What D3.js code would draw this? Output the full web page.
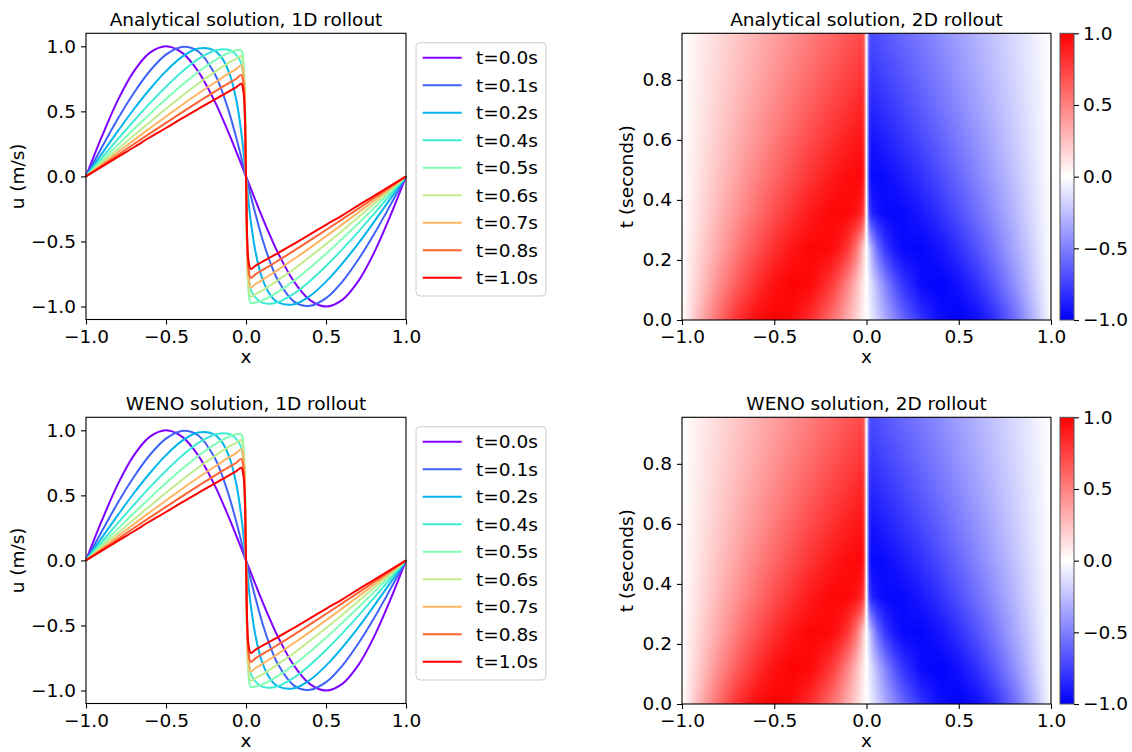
<!DOCTYPE html>
<html><head><meta charset="utf-8">
<script src="https://cdn.jsdelivr.net/npm/d3@7"></script>
<style>body{margin:0;background:#fff}svg{display:block}text{font-family:"DejaVu Sans",sans-serif}</style>
</head><body><svg id="c" width="1132" height="752"></svg>
<script>
// ---------- data ----------
const xGrid = [-1, -0.9, -0.8, -0.7, -0.6, -0.5, -0.4, -0.3, -0.2, -0.15, -0.1, -0.06, -0.03, -0.015, 0,
               0.015, 0.03, 0.06, 0.1, 0.15, 0.2, 0.3, 0.4, 0.5, 0.6, 0.7, 0.8, 0.9, 1];
const times = [0, 0.119, 0.239, 0.358, 0.478, 0.597, 0.716, 0.836, 0.955];
const timeLabels = ["t=0.0s","t=0.1s","t=0.2s","t=0.4s","t=0.5s","t=0.6s","t=0.7s","t=0.8s","t=1.0s"];
const xTicks = [-1, -0.5, 0, 0.5, 1];
const uTicks = [-1, -0.5, 0, 0.5, 1];
const tTicks = [0, 0.2, 0.4, 0.6, 0.8];
const cbTicks = [-1, -0.5, 0, 0.5, 1];

const u_t0 = [0, 0.309, 0.588, 0.809, 0.951, 1.0, 0.951, 0.809, 0.588, 0.454, 0.309, 0.187, 0.094, 0.047, 0,
              -0.047, -0.094, -0.187, -0.309, -0.454, -0.588, -0.809, -0.951, -1.0, -0.951, -0.809, -0.588, -0.309, 0];
const u_t1 = [0, 0.226, 0.445, 0.643, 0.812, 0.936, 0.995, 0.962, 0.799, 0.656, 0.471, 0.293, 0.150, 0.075, 0,
              -0.075, -0.150, -0.293, -0.471, -0.656, -0.799, -0.962, -0.995, -0.936, -0.812, -0.643, -0.445, -0.226, 0];
const u_t2 = [0, 0.177, 0.350, 0.518, 0.672, 0.809, 0.919, 0.983, 0.969, 0.909, 0.779, 0.583, 0.345, 0.182, 0,
              -0.182, -0.345, -0.583, -0.779, -0.909, -0.969, -0.983, -0.919, -0.809, -0.672, -0.518, -0.350, -0.177, 0];
const u_t3 = [0, 0.145, 0.288, 0.428, 0.563, 0.689, 0.804, 0.901, 0.966, 0.978, 0.970, 0.932, 0.870, 0.720, 0,
              -0.720, -0.870, -0.932, -0.970, -0.978, -0.966, -0.901, -0.804, -0.689, -0.563, -0.428, -0.288, -0.145, 0];
const u_t4 = [0, 0.122, 0.244, 0.364, 0.481, 0.595, 0.702, 0.801, 0.888, 0.924, 0.954, 0.969, 0.972, 0.860, 0,
              -0.860, -0.972, -0.969, -0.954, -0.924, -0.888, -0.801, -0.702, -0.595, -0.481, -0.364, -0.244, -0.122, 0];
const u_t5 = [0, 0.106, 0.211, 0.316, 0.419, 0.520, 0.618, 0.712, 0.798, 0.840, 0.878, 0.905, 0.925, 0.830, 0,
              -0.830, -0.925, -0.905, -0.878, -0.840, -0.798, -0.712, -0.618, -0.520, -0.419, -0.316, -0.211, -0.106, 0];
const u_t6 = [0, 0.093, 0.187, 0.279, 0.371, 0.460, 0.549, 0.635, 0.718, 0.758, 0.797, 0.827, 0.853, 0.770, 0,
              -0.770, -0.853, -0.827, -0.797, -0.758, -0.718, -0.635, -0.549, -0.460, -0.371, -0.279, -0.187, -0.093, 0];
const u_t7 = [0, 0.083, 0.166, 0.249, 0.331, 0.412, 0.492, 0.571, 0.648, 0.686, 0.722, 0.751, 0.780, 0.700, 0,
              -0.700, -0.780, -0.751, -0.722, -0.686, -0.648, -0.571, -0.492, -0.412, -0.331, -0.249, -0.166, -0.083, 0];
const u_t8 = [0, 0.075, 0.150, 0.224, 0.301, 0.372, 0.446, 0.518, 0.589, 0.622, 0.658, 0.686, 0.712, 0.640, 0,
              -0.640, -0.712, -0.686, -0.658, -0.622, -0.589, -0.518, -0.446, -0.372, -0.301, -0.224, -0.150, -0.075, 0];

const analyticalSeries = [u_t0, u_t1, u_t2, u_t3, u_t4, u_t5, u_t6, u_t7, u_t8];
const wenoSeries = [u_t0, u_t1, u_t2, u_t3, u_t4, u_t5, u_t6, u_t7, u_t8];

// ---------- styles ----------
const lineColors = ["#8000ff","#3f62fa","#00b4ec","#40ecd4","#80ffb4","#c0ec8e","#ffb462","#ff6232","#ff0000"];
const FONT = 18.5;
const svg = d3.select("#c");
const fmt = d3.format(".1f");

function styleAxis(sel){
  sel.attr("font-size", FONT).attr("font-family", "DejaVu Sans, sans-serif");
  sel.select(".domain").remove();
  sel.selectAll(".tick line").attr("stroke", "#000").attr("stroke-width", 1.1);
  sel.selectAll(".tick text").attr("fill", "#000");
}

function linePanel(oy, title, series){
  const L = 86, R = 406, T = 33.3 + oy, B = 319.5 + oy;
  const x = d3.scaleLinear().domain([-1, 1]).range([L, R]);
  const y = d3.scaleLinear().domain([-1.1, 1.1]).range([B, T]);
  const g = svg.append("g");
  const line = d3.line().x((d, i) => x(xGrid[i])).y(d => y(d)).curve(d3.curveCatmullRom.alpha(0.5));
  series.forEach((s, k) => {
    g.append("path").attr("d", line(s)).attr("fill", "none")
      .attr("stroke", lineColors[k]).attr("stroke-width", 2).attr("stroke-linejoin", "round");
  });
  g.append("g").attr("transform", `translate(0,${B})`)
    .call(d3.axisBottom(x).tickValues(xTicks).tickFormat(fmt).tickSize(5).tickPadding(5)).call(styleAxis);
  g.append("g").attr("transform", `translate(${L},0)`)
    .call(d3.axisLeft(y).tickValues(uTicks).tickFormat(fmt).tickSize(5).tickPadding(5)).call(styleAxis);
  g.append("rect").attr("x", L).attr("y", T).attr("width", R - L).attr("height", B - T)
    .attr("fill", "none").attr("stroke", "#000").attr("stroke-width", 1.1);
  g.append("text").attr("x", (L + R) / 2).attr("y", 26 + oy).attr("text-anchor", "middle")
    .attr("font-size", FONT).text(title);
  g.append("text").attr("x", (L + R) / 2).attr("y", 363 + oy).attr("text-anchor", "middle")
    .attr("font-size", FONT).text("x");
  g.append("text").attr("transform", `translate(24,${(T + B) / 2}) rotate(-90)`).attr("text-anchor", "middle")
    .attr("font-size", FONT).text("u (m/s)");
  // legend
  const lg = g.append("g");
  lg.append("rect").attr("x", 416).attr("y", 42.7 + oy).attr("width", 130).attr("height", 253.3)
    .attr("rx", 4).attr("fill", "#fff").attr("fill-opacity", 0.8).attr("stroke", "#cccccc").attr("stroke-width", 1);
  timeLabels.forEach((lab, k) => {
    const ry = 57.7 + oy + k * 27.5;
    lg.append("line").attr("x1", 422.7).attr("x2", 461.7).attr("y1", ry).attr("y2", ry)
      .attr("stroke", lineColors[k]).attr("stroke-width", 2);
    lg.append("text").attr("x", 476).attr("y", ry + 6.6).attr("font-size", FONT).text(lab);
  });
}

function heatPanel(oy, title, series){
  const L = 682, R = 1051, T = 33.3 + oy, B = 320 + oy;
  const x = d3.scaleLinear().domain([-1, 1]).range([L, R]);
  const y = d3.scaleLinear().domain([0, times[times.length - 1]]).range([B, T]);
  const color = d3.scaleLinear().domain([-1, 0, 1]).range(["#0000ff", "#ffffff", "#ff0000"]).clamp(true);
  const W = Math.round(R - L), H = Math.round(B - T);
  const cv = document.createElement("canvas"); cv.width = W; cv.height = H;
  const ctx = cv.getContext("2d");
  const img = ctx.createImageData(W, H);
  const bx = d3.bisector(d => d).right;
  for (let py = 0; py < H; py++){
    const tv = y.invert(T + (py + 0.5) * (B - T) / H);
    let j = Math.min(Math.max(bx(times, tv) - 1, 0), times.length - 2);
    const ft = Math.min(Math.max((tv - times[j]) / (times[j + 1] - times[j]), 0), 1);
    for (let px = 0; px < W; px++){
      const xv = x.invert(L + (px + 0.5) * (R - L) / W);
      let i = Math.min(Math.max(bx(xGrid, xv) - 1, 0), xGrid.length - 2);
      const fx = Math.min(Math.max((xv - xGrid[i]) / (xGrid[i + 1] - xGrid[i]), 0), 1);
      const a = series[j][i] * (1 - fx) + series[j][i + 1] * fx;
      const b = series[j + 1][i] * (1 - fx) + series[j + 1][i + 1] * fx;
      const v = a * (1 - ft) + b * ft;
      const c = d3.rgb(color(v));
      const o = (py * W + px) * 4;
      img.data[o] = c.r; img.data[o + 1] = c.g; img.data[o + 2] = c.b; img.data[o + 3] = 255;
    }
  }
  ctx.putImageData(img, 0, 0);
  const g = svg.append("g");
  g.append("image").attr("href", cv.toDataURL()).attr("x", L).attr("y", T)
    .attr("width", R - L).attr("height", B - T).attr("preserveAspectRatio", "none");
  g.append("g").attr("transform", `translate(0,${B})`)
    .call(d3.axisBottom(x).tickValues(xTicks).tickFormat(fmt).tickSize(5).tickPadding(5)).call(styleAxis);
  g.append("g").attr("transform", `translate(${L},0)`)
    .call(d3.axisLeft(y).tickValues(tTicks).tickFormat(fmt).tickSize(5).tickPadding(5)).call(styleAxis);
  g.append("rect").attr("x", L).attr("y", T).attr("width", R - L).attr("height", B - T)
    .attr("fill", "none").attr("stroke", "#000").attr("stroke-width", 1.1);
  g.append("text").attr("x", (L + R) / 2).attr("y", 26 + oy).attr("text-anchor", "middle")
    .attr("font-size", FONT).text(title);
  g.append("text").attr("x", (L + R) / 2).attr("y", 363 + oy).attr("text-anchor", "middle")
    .attr("font-size", FONT).text("x");
  g.append("text").attr("transform", `translate(633,${(T + B) / 2}) rotate(-90)`).attr("text-anchor", "middle")
    .attr("font-size", FONT).text("t (seconds)");
  // colorbar
  const CL = 1060, CR = 1074;
  const gid = "cbg" + oy;
  const grad = svg.append("defs").append("linearGradient").attr("id", gid)
    .attr("x1", 0).attr("y1", 1).attr("x2", 0).attr("y2", 0);
  grad.append("stop").attr("offset", "0%").attr("stop-color", color(-1));
  grad.append("stop").attr("offset", "50%").attr("stop-color", color(0));
  grad.append("stop").attr("offset", "100%").attr("stop-color", color(1));
  const cy = d3.scaleLinear().domain([-1, 1]).range([B, T]);
  g.append("rect").attr("x", CL).attr("y", T).attr("width", CR - CL).attr("height", B - T)
    .attr("fill", `url(#${gid})`).attr("stroke", "#555").attr("stroke-width", 1);
  g.append("g").attr("transform", `translate(${CR},0)`)
    .call(d3.axisRight(cy).tickValues(cbTicks).tickFormat(fmt).tickSize(5).tickPadding(4)).call(styleAxis);
}

linePanel(0, "Analytical solution, 1D rollout", analyticalSeries);
heatPanel(0, "Analytical solution, 2D rollout", analyticalSeries);
linePanel(384, "WENO solution, 1D rollout", wenoSeries);
heatPanel(384, "WENO solution, 2D rollout", wenoSeries);
</script></body></html>
